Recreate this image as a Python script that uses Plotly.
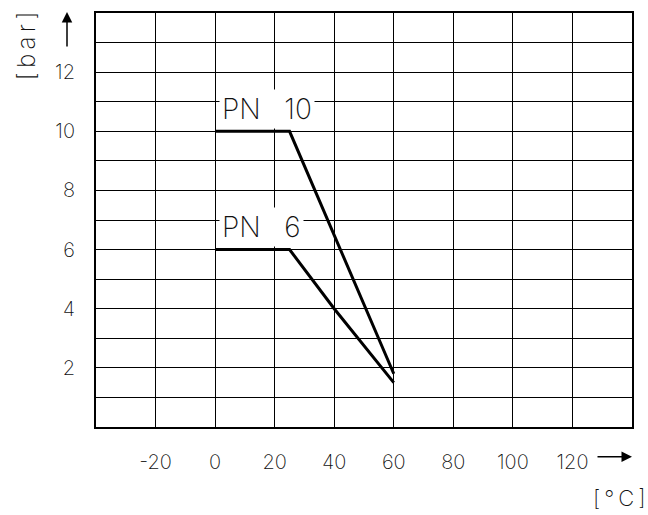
import plotly.graph_objects as go

# Data
temp_pn10 = [0, 25, 60]
pres_pn10 = [10, 10, 1.8]
temp_pn6 = [0, 25, 40, 60]
pres_pn6 = [6, 6, 4, 1.5]

x_ticks = [-40, -20, 0, 20, 40, 60, 80, 100, 120, 140]
x_labels = ["", "-20", "0", "20", "40", "60", "80", "100", "120", ""]
y_ticks = list(range(0, 15))
y_labels = ["", "", "2", "", "4", "", "6", "", "8", "", "10", "", "12", "", ""]

FONT = "Inter, DejaVu Sans, sans-serif"
W = 200
TXT = "#111"

fig = go.Figure()
fig.add_trace(go.Scatter(x=temp_pn10, y=pres_pn10, mode="lines",
                         line=dict(color="black", width=3), name="PN 10"))
fig.add_trace(go.Scatter(x=temp_pn6, y=pres_pn6, mode="lines",
                         line=dict(color="black", width=3), name="PN 6"))

fig.update_layout(
    width=648, height=515,
    margin=dict(l=96, r=16, t=11, b=88),
    paper_bgcolor="white", plot_bgcolor="white",
    showlegend=False,
    font=dict(family=FONT, color=TXT, size=20, weight=W),
)
fig.update_xaxes(range=[-40, 140], tickvals=x_ticks, ticktext=x_labels,
                 showgrid=True, gridcolor="black", gridwidth=1,
                 zeroline=False, showline=True, linecolor="black", linewidth=2,
                 mirror=True, ticks="", ticklabelstandoff=16,
                 tickfont=dict(family=FONT, size=20, color=TXT, weight=W))
fig.update_yaxes(range=[0, 14], tickvals=y_ticks, ticktext=y_labels,
                 showgrid=True, gridcolor="black", gridwidth=1,
                 zeroline=False, showline=True, linecolor="black", linewidth=2,
                 mirror=True, ticks="", ticklabelstandoff=15,
                 tickfont=dict(family=FONT, size=20, color=TXT, weight=W))

# PN labels with white background
for txt, yv in [("PN\u00a0\u00a0\u00a010", 10), ("PN\u00a0\u00a0\u00a06", 6)]:
    fig.add_annotation(x=1.2, y=yv + 0.08, xref="x", yref="y", text=txt,
                       showarrow=False, xanchor="left", yanchor="bottom",
                       bgcolor="white", borderpad=2,
                       font=dict(family=FONT, size=28, color=TXT, weight=W))

# Axis arrows
fig.add_annotation(x=-0.0541, y=1.0024, xref="paper", yref="paper", text="",
                   showarrow=True, ax=0, ay=36, arrowhead=2, arrowsize=1.4,
                   arrowwidth=1.5, arrowcolor="black")
fig.add_annotation(x=1.0, y=-0.072, xref="paper", yref="paper", text="",
                   showarrow=True, ax=-36, ay=0, arrowhead=2, arrowsize=1.4,
                   arrowwidth=1.5, arrowcolor="black")

# Unit labels
fig.add_annotation(x=-0.1306, y=0.922, xref="paper", yref="paper",
                   xanchor="center", yanchor="middle",
                   text="[\u2009b\u2009a\u2009r\u2009]", textangle=-90, showarrow=False,
                   font=dict(family=FONT, size=24, color=TXT, weight=W))
fig.add_annotation(x=0.976, y=-0.171, xref="paper", yref="paper",
                   xanchor="center", yanchor="middle",
                   text="[\u2009°\u2009C\u2009]", showarrow=False,
                   font=dict(family=FONT, size=22, color=TXT, weight=W))

fig.write_html("out.html", config={"displayModeBar": False},
               post_script="document.body.style.margin='0';")
